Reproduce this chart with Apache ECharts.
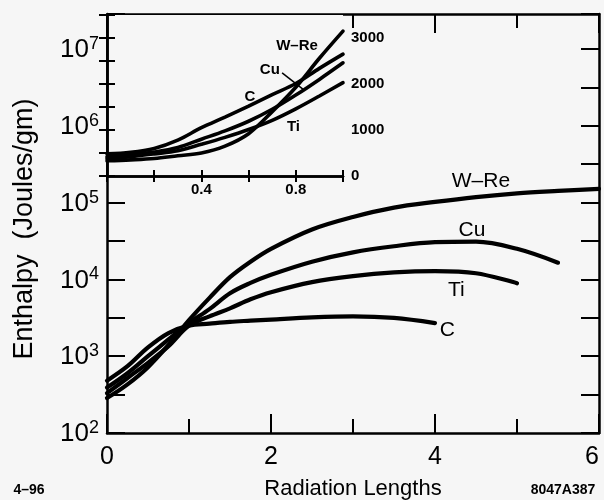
<!DOCTYPE html>
<html>
<head>
<meta charset="utf-8">
<script src="https://cdn.jsdelivr.net/npm/echarts@6.0.0/dist/echarts.min.js"></script>
<style>
  html, body { margin: 0; padding: 0; background: #f6f6f6; }
  #chart { width: 604px; height: 500px; }
</style>
</head>
<body>
<div id="chart"></div>
<script>
// main plot: radiation lengths vs enthalpy (log)
const mainX = [0, 0.25, 0.5, 0.75, 1, 1.25, 1.5, 1.75, 2, 2.5, 3, 3.5, 4, 4.5, 5, 5.5, 6]
const mainWRe = [285, 430, 720, 1400, 2950, 5750, 10700, 17000, 25000, 44700, 65000, 86000, 102000, 118000, 132000, 142000, 151000]
const mainCu = [390, 600, 1000, 1650, 2700, 4100, 6600, 9000, 11500, 17000, 22500, 27000, 30500, 31000, 25000, 16500]
const mainTi = [330, 520, 820, 1350, 2500, 3300, 4200, 5500, 6800, 9200, 11000, 12300, 12800, 12000, 8900]
const mainC = [480, 740, 1300, 2000, 2500, 2650, 2800, 2900, 3000, 3200, 3300, 3150, 2700]

// inset: first radiation length, linear scale
const insetX = [0, 0.1, 0.2, 0.3, 0.4, 0.5, 0.6, 0.7, 0.8, 0.9, 1.0]
const insetWRe = [330, 350, 380, 440, 500, 650, 920, 1400, 1930, 2560, 3150]
const insetCu = [420, 460, 520, 620, 800, 980, 1190, 1450, 1760, 2100, 2460]
const insetTi = [380, 420, 480, 550, 690, 840, 1010, 1210, 1460, 1740, 2030]
const insetC = [480, 515, 600, 780, 1050, 1280, 1520, 1770, 2010, 2340, 2650]

const mainXTicks = [0, 2, 4, 6]
const insetXLabels = [0.4, 0.8]
const insetYLabels = [0, 1000, 2000, 3000]

const yMin = 100
const yMax = 2.85e7

const FONT = 'Liberation Sans, Arial, Helvetica, sans-serif'
const BLACK = '#000'

function pairs(xs, ys) {
  return ys.map((y, i) => [xs[i], y])
}

function hiddenPoint(coord, text, size, bold) {
  return {
    coord: coord,
    value: text,
    symbol: 'rect',
    symbolSize: 1,
    itemStyle: { color: 'rgba(0,0,0,0)' },
    label: {
      show: true,
      formatter: text,
      color: BLACK,
      fontFamily: FONT,
      fontSize: size,
      fontWeight: bold ? 'bold' : 'normal',
    },
  }
}

function mainLine(name, data, label) {
  return {
    name: name,
    type: 'line',
    xAxisIndex: 0,
    yAxisIndex: 0,
    data: data,
    smooth: 0.35,
    showSymbol: false,
    z: 3,
    lineStyle: { color: BLACK, width: 4.2, cap: 'round' },
    markPoint: { silent: true, data: [label] },
  }
}

function insetLine(name, data, label, extra) {
  const s = {
    name: name,
    type: 'line',
    xAxisIndex: 2,
    yAxisIndex: 3,
    data: data,
    smooth: 0.35,
    showSymbol: false,
    z: 12,
    lineStyle: { color: BLACK, width: 3.6, cap: 'round' },
    markPoint: { silent: true, z: 13, data: [label] },
  }
  return Object.assign(s, extra || {})
}

const tickStyle = { color: BLACK, width: 2 }
const axisLineStyle = { color: BLACK, width: 2.5 }

const chart = echarts.init(document.getElementById('chart'), null, { renderer: 'canvas' })

chart.setOption({
  backgroundColor: '#f6f6f6',
  animation: false,
  grid: [
    { left: 107, right: 5, top: 14, bottom: 67, outerBoundsMode: 'none', containLabel: false },
    {
      left: 107, top: 15, width: 236, height: 161, outerBoundsMode: 'none', containLabel: false,
      show: true, backgroundColor: '#f6f6f6', borderWidth: 0, z: 10,
    },
  ],
  xAxis: [
    {
      type: 'value', gridIndex: 0, min: 0, max: 6, interval: 2,
      name: 'Radiation Lengths', nameLocation: 'middle', nameGap: 45,
      nameTextStyle: { fontFamily: FONT, fontSize: 22, color: BLACK },
      axisLine: { lineStyle: axisLineStyle },
      axisTick: { inside: true, length: 19, lineStyle: tickStyle },
      minorTick: { show: true, splitNumber: 2, length: 14, lineStyle: tickStyle },
      splitLine: { show: false },
      axisLabel: {
        margin: 12, fontFamily: FONT, fontSize: 25, color: BLACK,
        alignMaxLabel: 'right',
        formatter: (v) => (mainXTicks.indexOf(v) >= 0 ? String(v) : ''),
      },
    },
    {
      type: 'value', gridIndex: 0, position: 'top', min: 0, max: 6, interval: 2,
      axisLine: { lineStyle: axisLineStyle },
      axisTick: { inside: true, length: 19, lineStyle: tickStyle },
      minorTick: { show: true, splitNumber: 2, length: 14, lineStyle: tickStyle },
      splitLine: { show: false },
      axisLabel: { show: false },
    },
    {
      type: 'value', gridIndex: 1, min: 0, max: 1, interval: 0.2, z: 11,
      axisLine: { lineStyle: axisLineStyle },
      axisTick: { inside: true, length: 6, lineStyle: tickStyle },
      splitLine: { show: false },
      axisLabel: {
        margin: 6, fontFamily: FONT, fontSize: 15, fontWeight: 'bold', color: BLACK,
        formatter: (v) => (insetXLabels.some((t) => Math.abs(t - v) < 1e-6) ? v.toFixed(1) : ''),
      },
    },
    {
      type: 'value', gridIndex: 1, position: 'top', min: 0, max: 1, interval: 0.2, z: 11,
      axisLine: { lineStyle: axisLineStyle },
      axisTick: { inside: true, length: 6, lineStyle: tickStyle },
      splitLine: { show: false },
      axisLabel: { show: false },
    },
  ],
  yAxis: [
    {
      type: 'log', gridIndex: 0, position: 'left', min: yMin, max: yMax, logBase: 10,
      axisLine: { lineStyle: axisLineStyle },
      axisTick: { show: false },
      splitLine: { show: false },
      axisLabel: {
        margin: 8,
        showMaxLabel: false,
        formatter: (v) => {
          const n = Math.log10(v)
          if (Math.abs(n - Math.round(n)) > 1e-6) return ''
          return '{b|10}{s|' + Math.round(n) + '}'
        },
        rich: {
          b: { fontFamily: FONT, fontSize: 26, color: BLACK, verticalAlign: 'bottom', lineHeight: 28 },
          s: { fontFamily: FONT, fontSize: 18, color: BLACK, verticalAlign: 'top', lineHeight: 18 },
        },
      },
    },
    {
      // half-decade ticks along the left side
      type: 'value', gridIndex: 0, position: 'left', min: Math.log10(yMin), max: Math.log10(yMax), interval: 0.5,
      axisLine: { show: false },
      axisTick: { inside: true, length: 18, lineStyle: tickStyle },
      splitLine: { show: false },
      axisLabel: { show: false },
    },
    {
      type: 'value', gridIndex: 0, position: 'right', min: Math.log10(yMin), max: Math.log10(yMax), interval: 0.5,
      axisLine: { show: true, lineStyle: axisLineStyle },
      axisTick: { inside: true, length: 18, lineStyle: tickStyle },
      splitLine: { show: false },
      axisLabel: { show: false },
    },
    {
      type: 'value', gridIndex: 1, position: 'right', min: 0, max: 3500, interval: 500, z: 11,
      axisLine: { show: true, lineStyle: axisLineStyle },
      axisTick: { inside: true, length: 8, lineStyle: tickStyle },
      splitLine: { show: false },
      axisLabel: {
        margin: 8, fontFamily: FONT, fontSize: 15, fontWeight: 'bold', color: BLACK,
        formatter: (v) => (insetYLabels.indexOf(v) >= 0 ? String(v) : ''),
      },
    },
    {
      type: 'value', gridIndex: 1, position: 'left', min: 0, max: 3500, interval: 500, z: 11,
      axisLine: { show: true, lineStyle: axisLineStyle },
      axisTick: { inside: true, length: 8, lineStyle: tickStyle },
      splitLine: { show: false },
      axisLabel: { show: false },
    },
  ],
  graphic: [
    {
      type: 'text', x: 25, y: 229, rotation: Math.PI / 2,
      style: { text: 'Enthalpy  (Joules/gm)', fontFamily: FONT, fontSize: 27, fill: BLACK, align: 'center', verticalAlign: 'middle' },
    },
    {
      type: 'text', x: 29, y: 490,
      style: { text: '4–96', fontFamily: FONT, fontSize: 14, fontWeight: 'bold', fill: BLACK, align: 'center', verticalAlign: 'middle' },
    },
    {
      type: 'text', x: 563, y: 490,
      style: { text: '8047A387', fontFamily: FONT, fontSize: 14, fontWeight: 'bold', fill: BLACK, align: 'center', verticalAlign: 'middle' },
    },
  ],
  series: [
    mainLine('W-Re', pairs(mainX, mainWRe), hiddenPoint([4.56, 1.9e5], 'W–Re', 21)),
    mainLine('Cu', pairs(mainX, mainCu), hiddenPoint([4.45, 44000], 'Cu', 21)),
    mainLine('Ti', pairs(mainX, mainTi), hiddenPoint([4.26, 7300], 'Ti', 21)),
    mainLine('C', pairs(mainX, mainC), hiddenPoint([4.15, 2180], 'C', 21)),
    insetLine('W-Re inset', pairs(insetX, insetWRe), hiddenPoint([0.805, 2830], 'W–Re', 15, true)),
    insetLine('Cu inset', pairs(insetX, insetCu), hiddenPoint([0.69, 2300], 'Cu', 15, true), {
      markLine: {
        silent: true,
        symbol: ['none', 'none'],
        z: 13,
        lineStyle: { color: BLACK, width: 1.5, type: 'solid' },
        label: { show: false },
        data: [[{ coord: [0.742, 2240] }, { coord: [0.83, 1890] }]],
      },
    }),
    insetLine('Ti inset', pairs(insetX, insetTi), hiddenPoint([0.79, 1065], 'Ti', 15, true)),
    insetLine('C inset', pairs(insetX, insetC), hiddenPoint([0.606, 1720], 'C', 15, true)),
  ],
})
</script>
</body>
</html>
